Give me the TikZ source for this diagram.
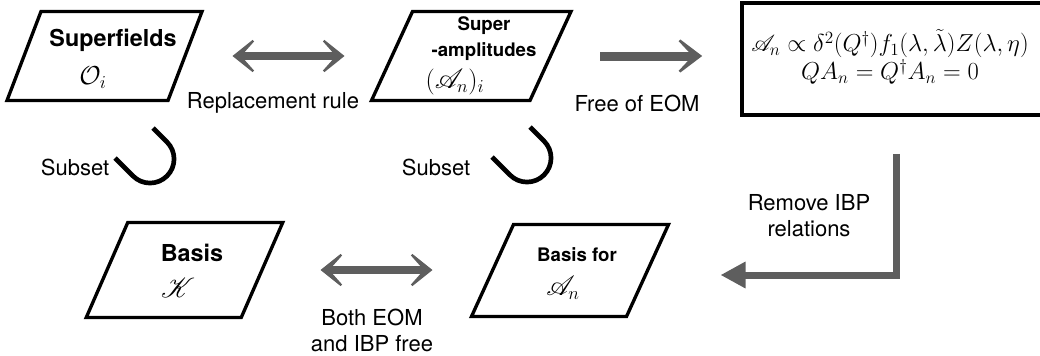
\RequirePackage{fix-cm}
\documentclass[tikz,border=0pt]{standalone}
\usepackage{amsmath}
\usepackage{mathrsfs}
\usepackage[no-math]{fontspec}
\setmainfont{TeX Gyre Heros}
\usetikzlibrary{arrows.meta}

\definecolor{arrowgray}{RGB}{94,94,94}

\tikzset{every picture/.style={line width=0.75pt}}
\tikzset{
  pgbox/.style 2 args={inner sep=0pt, minimum width=#1, minimum height=#2},
  pgline/.style={draw, line width=2.5pt},
  cupline/.style={draw, line width=3.5pt},
  fmbox/.style={draw, line width=2.75pt, inner sep=0pt, minimum width=225.75pt, minimum height=84pt},
  fmtext/.style={align=center, inner sep=0pt, font=\fontsize{18.4}{21}\selectfont},
  bigtitle/.style={font=\fontsize{17.5}{19.5}\selectfont\bfseries, align=center},
  smalltitle/.style={font=\fontsize{14}{19.5}\selectfont\bfseries, align=center},
  symb/.style={font=\fontsize{19.5}{20}\selectfont},
  lbl/.style={font=\fontsize{16.5}{19.5}\selectfont, align=center},
  dblarrow/.style={draw=arrowgray, line width=6pt, {Stealth[length=22.5pt, width=36pt, inset=16pt]}-{Stealth[length=22.5pt, width=36pt, inset=16pt]}},
  onearrow/.style={draw=arrowgray, line width=6.75pt, -{Stealth[length=24.75pt, width=37.5pt, inset=17.5pt]}},
  elbowarrow/.style={draw=arrowgray, line width=5.25pt, line join=miter, -{Triangle[length=18.75pt, width=18.75pt]}}
}

\begin{document}
\begin{tikzpicture}[x=0.75pt,y=0.75pt,yscale=-1,xscale=1]
    \useasboundingbox (0,0) rectangle (1040,355);

    %Shape: Parallelogram boxes
    \node[pgbox={120pt}{66pt}] (sf) at (104.5,56) {};
    \node[pgbox={118.1pt}{66pt}] (sa) at (471.25,56) {};
    \node[pgbox={115.5pt}{70.5pt}] (bk) at (184.5,270) {};
    \node[pgbox={115.5pt}{68.25pt}] (ba) at (570,270.5) {};
    \foreach \n/\s in {sf/17, sa/20.5, bk/20.75, ba/21}
      \draw[pgline] ([shift={(\s,0)}]\n.north west) -- ([shift={(\s,0)}]\n.north east) -- ([shift={(-\s,0)}]\n.south east) -- ([shift={(-\s,0)}]\n.south west) -- cycle;

    %Shape: Rectangle
    \node[fmbox] (fm) at (892.5,59) {};
    \node[fmtext] (fm-t) at (890,57) {$\mathscr{A}_n \propto \delta^2(Q^\dagger) f_1(\lambda,\tilde{\lambda}) Z(\lambda,\eta)$\\$QA_n = Q^\dagger A_n = 0$};

    %Shape: Subset cups
    \foreach \cx/\cy in {150/159, 527/158}
      \draw[cupline, shift={(\cx,\cy)}] (3,-31) -- (17,-17) .. controls (26.4,-7.6) and (26.4,7.6) .. (17,17) .. controls (7.6,26.4) and (-7.6,26.4) .. (-17,17) -- (-35,-1);

    %Straight Lines
    \draw[dblarrow, shorten <=35.6pt, shorten >=35.6pt] (sf.east) -- (sf.east -| sa.west);
    \draw[onearrow, shorten <=37.5pt, shorten >=28.5pt] (sa.east) -- (sa.east -| fm.west);
    \draw[dblarrow, shorten <=43.9pt, shorten >=45pt] (bk.east) -- (bk.east -| ba.west);
    \coordinate (ibp) at ([shift={(4,37)}]fm.south);
    \draw[elbowarrow] (ibp) |- ([shift={(73,4.5)}]ba.east);

    \node[bigtitle] (sf-t) at (113,40) {Superfields};
    \node[symb] (sf-s) at (93,78) {$\mathcal{O}_i$};
    \node[smalltitle] (sa-t) at (484,39) {Super\\-amplitudes};
    \node[symb] (sa-s) at (455,82) {$(\mathscr{A}_n)_i$};
    \node[bigtitle] (bk-t) at (192,253) {Basis};
    \node[symb] (bk-s) at (178,288) {$\mathscr{K}$};
    \node[smalltitle] (ba-t) at (577,255) {Basis for};
    \node[symb] (ba-s) at (563,288) {$\mathscr{A}_n$};

    \node[lbl] (rep) at (273,103) {Replacement rule};
    \node[lbl] (eom) at (637,103) {Free of EOM};
    \node[lbl] (sub-l) at (75,167) {Subset};
    \node[lbl] (sub-r) at (436,167) {Subset};
    \node[lbl] (both) at (372,330) {Both EOM\\and IBP free};
    \node[lbl] (ibp-t) at (809,216) {Remove IBP\\relations};

\end{tikzpicture}
\end{document}
